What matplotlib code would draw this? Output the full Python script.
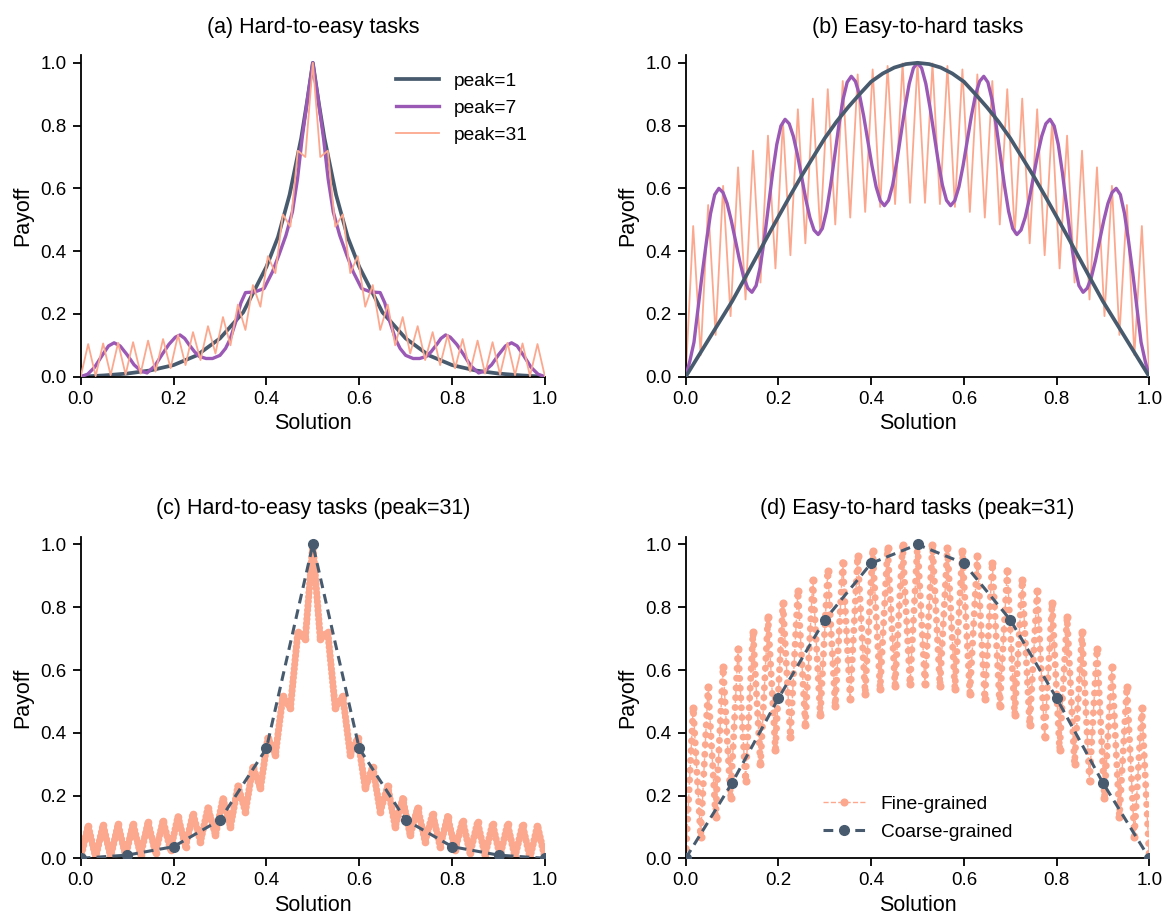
#!/usr/bin/env python3
"""
Payoff landscapes: hard-to-easy vs easy-to-hard tasks
"""
import numpy as np
import matplotlib
matplotlib.use('Agg')
import matplotlib.pyplot as plt

# colours
DARK = '#485b6e'
PURPLE = '#9b59b6'
SALMON = '#fca88e'

# ---- data ----
# peak=1, hard-to-easy
x_easy1 = [0.0, 0.05, 0.1, 0.15, 0.2, 0.25, 0.3, 0.35, 0.4, 0.425, 0.45, 0.475, 0.4875, 0.5,
           0.5125, 0.525, 0.55, 0.575, 0.6, 0.65, 0.7, 0.75, 0.8, 0.85, 0.9, 0.95, 1.0]
y_easy1 = [0.0, 0.004, 0.01, 0.02, 0.037, 0.068, 0.122, 0.205, 0.35, 0.445, 0.58, 0.76, 0.875, 1.0,
           0.875, 0.76, 0.58, 0.445, 0.35, 0.205, 0.122, 0.068, 0.037, 0.02, 0.01, 0.004, 0.0]

# peak=7, hard-to-easy
x_easy7 = [0.000, 0.015, 0.030, 0.045, 0.060, 0.072, 0.085, 0.100, 0.115, 0.130, 0.143, 0.160,
           0.175, 0.190, 0.204, 0.214, 0.224, 0.233, 0.245, 0.255, 0.270, 0.284, 0.300, 0.312,
           0.322, 0.334, 0.345, 0.355, 0.375, 0.395, 0.413, 0.427, 0.442, 0.456, 0.467, 0.477,
           0.489, 0.500,
           0.511, 0.523, 0.533, 0.544, 0.558, 0.573, 0.587, 0.605, 0.625, 0.645, 0.655, 0.666,
           0.678, 0.688, 0.700, 0.716, 0.730, 0.745, 0.755, 0.767, 0.776, 0.786, 0.796, 0.810,
           0.825, 0.840, 0.857, 0.870, 0.885, 0.900, 0.915, 0.928, 0.940, 0.955, 0.970, 0.985,
           1.000]
y_easy7 = [0.000, 0.008, 0.030, 0.065, 0.098, 0.108, 0.098, 0.070, 0.038, 0.018, 0.012, 0.035,
           0.070, 0.103, 0.126, 0.133, 0.122, 0.103, 0.080, 0.065, 0.058, 0.058, 0.068, 0.090,
           0.120, 0.175, 0.235, 0.268, 0.270, 0.281, 0.334, 0.388, 0.450, 0.525, 0.630, 0.760,
           0.890, 1.000,
           0.890, 0.760, 0.630, 0.525, 0.450, 0.388, 0.334, 0.281, 0.270, 0.268, 0.235, 0.175,
           0.120, 0.090, 0.068, 0.058, 0.058, 0.065, 0.080, 0.103, 0.122, 0.133, 0.126, 0.103,
           0.070, 0.035, 0.012, 0.018, 0.038, 0.070, 0.098, 0.108, 0.098, 0.065, 0.030, 0.008,
           0.000]

# peak=31, hard-to-easy: values at the troughs (k/31) and at the peaks ((k+0.5)/31)
troughs_easy31 = [0.0, 0.002, 0.005, 0.007, 0.010, 0.016, 0.027, 0.037, 0.053, 0.074, 0.100,
                  0.149, 0.223, 0.330, 0.478, 0.700, 0.700, 0.478, 0.330, 0.223, 0.149, 0.100,
                  0.074, 0.053, 0.037, 0.027, 0.016, 0.010, 0.007, 0.005, 0.002, 0.0]
peaks_easy31 = [0.104, 0.106, 0.108, 0.110, 0.115, 0.120, 0.133, 0.142, 0.161, 0.190, 0.230,
                0.292, 0.384, 0.517, 0.720, 1.000, 0.720, 0.517, 0.384, 0.292, 0.230, 0.190,
                0.161, 0.142, 0.133, 0.120, 0.115, 0.110, 0.108, 0.106, 0.104]

# peak=1, easy-to-hard (every 0.025)
y_hard1 = [0.0, 0.06, 0.12, 0.18, 0.24, 0.307, 0.375, 0.443, 0.51, 0.576, 0.64, 0.70, 0.76,
           0.812, 0.858, 0.90, 0.94, 0.966, 0.985, 0.996, 1.0,
           0.996, 0.985, 0.966, 0.94, 0.90, 0.858, 0.812, 0.76, 0.70, 0.64, 0.576, 0.51,
           0.443, 0.375, 0.307, 0.24, 0.18, 0.12, 0.06, 0.0]

# peak=7, easy-to-hard (sampled every 1/112)
y_hard7 = [0.0, 0.05, 0.11, 0.22, 0.33, 0.43, 0.52, 0.58, 0.60,
           0.587, 0.552, 0.498, 0.435, 0.371, 0.317, 0.282, 0.269,
           0.29, 0.35, 0.439, 0.545, 0.65, 0.74, 0.799, 0.82,
           0.806, 0.766, 0.707, 0.637, 0.566, 0.507, 0.467, 0.453,
           0.472, 0.527, 0.609, 0.705, 0.801, 0.883, 0.938, 0.957,
           0.941, 0.897, 0.830, 0.751, 0.672, 0.605, 0.561, 0.545,
           0.562, 0.611, 0.686, 0.773, 0.859, 0.934, 0.983, 1.0,
           0.983, 0.934, 0.859, 0.773, 0.686, 0.611, 0.562, 0.545,
           0.561, 0.605, 0.672, 0.751, 0.830, 0.897, 0.941, 0.957,
           0.938, 0.883, 0.801, 0.705, 0.609, 0.527, 0.472, 0.453,
           0.467, 0.507, 0.566, 0.637, 0.707, 0.766, 0.806, 0.82,
           0.799, 0.74, 0.65, 0.545, 0.439, 0.35, 0.29, 0.269,
           0.282, 0.317, 0.371, 0.435, 0.498, 0.552, 0.587, 0.60,
           0.58, 0.52, 0.43, 0.33, 0.22, 0.11, 0.05, 0.0]

# peak=31, easy-to-hard
troughs_hard31 = [0.0, 0.069, 0.133, 0.193, 0.246, 0.300, 0.345, 0.387, 0.425, 0.456, 0.485,
                  0.507, 0.525, 0.541, 0.550, 0.554, 0.554, 0.550, 0.541, 0.525, 0.507, 0.485,
                  0.456, 0.425, 0.387, 0.345, 0.300, 0.246, 0.193, 0.133, 0.069, 0.0]
peaks_hard31 = [0.480, 0.547, 0.608, 0.667, 0.720, 0.768, 0.814, 0.852, 0.886, 0.916, 0.942,
                0.963, 0.979, 0.990, 0.998, 1.000, 0.998, 0.990, 0.979, 0.963, 0.942, 0.916,
                0.886, 0.852, 0.814, 0.768, 0.720, 0.667, 0.608, 0.547, 0.480]

# coarse-grained samples (every 0.1)
x_coarse = [0.0, 0.1, 0.2, 0.3, 0.4, 0.5, 0.6, 0.7, 0.8, 0.9, 1.0]
coarse_easy = [0.0, 0.01, 0.037, 0.122, 0.35, 1.0, 0.35, 0.122, 0.037, 0.01, 0.0]
coarse_hard = [0.0, 0.24, 0.51, 0.76, 0.94, 1.0, 0.94, 0.76, 0.51, 0.24, 0.0]


def zigzag(troughs, peaks):
    """Merge trough and peak values into one path, trough first."""
    y = np.empty(len(troughs) + len(peaks))
    y[0::2] = troughs
    y[1::2] = peaks
    x = np.arange(len(y)) / (len(y) - 1)
    return x, y


def grid_of(values):
    """Even grid on [0, 1] matching a uniformly sampled series."""
    return np.arange(len(values)) / (len(values) - 1)


def style(ax, title):
    ax.set_xlim(0, 1)
    ax.set_ylim(0, 1.025)
    ticks = [0.0, 0.2, 0.4, 0.6, 0.8, 1.0]
    ax.set_xticks(ticks)
    ax.set_yticks(ticks)
    ax.xaxis.set_major_formatter('{x:.1f}')
    ax.yaxis.set_major_formatter('{x:.1f}')
    for side in ['top', 'right']:
        ax.spines[side].set_visible(False)
    for side in ['left', 'bottom']:
        ax.spines[side].set_linewidth(1.3)
    ax.tick_params(direction='out', length=6, width=1.3, labelsize=13.5, pad=4)
    ax.set_xlabel('Solution', fontsize=15.5, labelpad=4)
    ax.set_ylabel('Payoff', fontsize=15.5, labelpad=5)
    ax.set_title(title, fontsize=15.5, pad=16)


plt.rcParams['font.family'] = ['Liberation Sans', 'DejaVu Sans']

fig = plt.figure(figsize=(11.64, 9.15), dpi=100)
ax_a = fig.add_axes([0.0693, 0.5883, 0.3989, 0.3516])
ax_b = fig.add_axes([0.5891, 0.5883, 0.3983, 0.3516])
ax_c = fig.add_axes([0.0693, 0.0620, 0.3989, 0.3515])
ax_d = fig.add_axes([0.5891, 0.0620, 0.3983, 0.3515])

x31_easy, y31_easy = zigzag(troughs_easy31, peaks_easy31)
x31_hard, y31_hard = zigzag(troughs_hard31, peaks_hard31)

# (a)
ax_a.plot(x_easy1, y_easy1, color=DARK, lw=2.7, label='peak=1', zorder=2)
ax_a.plot(x_easy7, y_easy7, color=PURPLE, lw=2.4, label='peak=7', zorder=3)
ax_a.plot(x31_easy, y31_easy, color=SALMON, lw=1.3, label='peak=31', zorder=4,
          solid_joinstyle='round')
ax_a.legend(loc='upper right', frameon=False, fontsize=13.8, handlelength=2.2)
style(ax_a, '(a) Hard-to-easy tasks')

# (b)
ax_b.plot(grid_of(y_hard1), y_hard1, color=DARK, lw=2.7, zorder=4)
ax_b.plot(grid_of(y_hard7), y_hard7, color=PURPLE, lw=2.4, zorder=3)
ax_b.plot(x31_hard, y31_hard, color=SALMON, lw=1.3, zorder=2, solid_joinstyle='round')
style(ax_b, '(b) Easy-to-hard tasks')

# (c)
ax_c.plot(x31_easy, y31_easy, color=SALMON, lw=5.2, ls=(0, (0.01, 0.6)),
          dash_capstyle='round', zorder=2)
ax_c.plot(x31_easy, y31_easy, color=SALMON, lw=1, ls='--', marker='o', ms=4.5, zorder=2)
ax_c.plot(x_coarse, coarse_easy, color=DARK, lw=2.2, ls=(0, (3.2, 2.0)), marker='o', ms=7,
          zorder=3)
style(ax_c, '(c) Hard-to-easy tasks (peak=31)')

# (d)
ax_d.plot(x31_hard, y31_hard, color=SALMON, lw=5.0, ls=(0, (0.01, 1.4)),
          dash_capstyle='round', zorder=2)
ax_d.plot(x31_hard, y31_hard, color=SALMON, lw=1, ls='--', marker='o', ms=4.8, zorder=2,
          label='Fine-grained')
ax_d.plot(x_coarse, coarse_hard, color=DARK, lw=2.2, ls=(0, (3.2, 2.0)), marker='o', ms=7,
          zorder=3, label='Coarse-grained')
ax_d.legend(loc='lower center', bbox_to_anchor=(0.5, 0.0), frameon=False, fontsize=13.8,
            handlelength=2.2, labelspacing=0.55)
style(ax_d, '(d) Easy-to-hard tasks (peak=31)')

fig.savefig('out.png', dpi=100)
